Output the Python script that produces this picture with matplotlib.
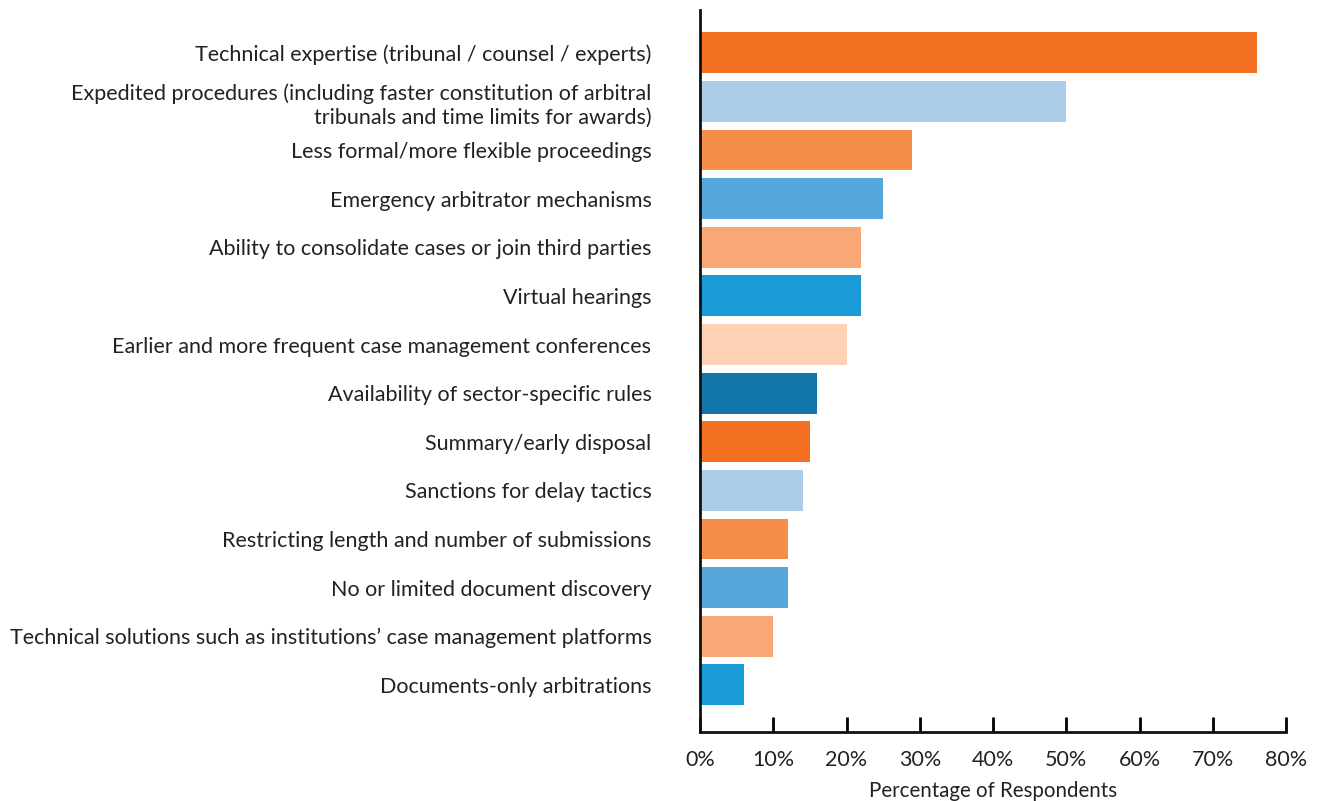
import numpy as np
import matplotlib.pyplot as plt
from matplotlib.ticker import FuncFormatter

plt.rcParams['font.family'] = ['Lato', 'DejaVu Sans']

labels = [
    "Technical expertise (tribunal / counsel / experts)",
    "Expedited procedures (including faster constitution of arbitral\ntribunals and time limits for awards)",
    "Less formal/more flexible proceedings",
    "Emergency arbitrator mechanisms",
    "Ability to consolidate cases or join third parties",
    "Virtual hearings",
    "Earlier and more frequent case management conferences",
    "Availability of sector-specific rules",
    "Summary/early disposal",
    "Sanctions for delay tactics",
    "Restricting length and number of submissions",
    "No or limited document discovery",
    "Technical solutions such as institutions\u2019 case management platforms",
    "Documents-only arbitrations",
]
values = [76, 50, 29, 25, 22, 22, 20, 16, 15, 14, 12, 12, 10, 6]
colors = ['#F37021', '#ABCDEA', '#F68D48', '#56A8DC', '#F8A775', '#1A9AD6', '#FDD1B4',
          '#1276A8', '#F37021', '#ABCDEA', '#F68D48', '#56A8DC', '#F8A775', '#1A9AD6']

fig = plt.figure(figsize=(13.19, 8.01), dpi=100)
ax = fig.add_axes([0.5307, 0.0861, 0.4444, 0.9014])

y = np.arange(len(values))
ax.barh(y, values, height=0.84, color=colors)
ax.set_ylim(len(values) - 1 + 0.97, -0.88)
ax.set_xlim(0, 80)
ax.set_xticks(np.arange(0, 81, 10))
ax.xaxis.set_major_formatter(FuncFormatter(lambda v, p: "%d%%" % v))
ax.set_yticks(y)
ax.set_yticklabels(labels, fontsize=15.5, color='#222222', linespacing=1.25)
ax.tick_params(axis='y', length=0, pad=35)
ax.tick_params(axis='x', direction='in', length=11, width=2, labelsize=15.5,
               labelcolor='#222222', pad=13)
for s in ['top', 'right']:
    ax.spines[s].set_visible(False)
for s in ['left', 'bottom']:
    ax.spines[s].set_linewidth(2)
    ax.spines[s].set_color('#111111')
ax.set_xlabel("Percentage of Respondents", fontsize=14.8, color='#222222', labelpad=8)

plt.savefig('out.png')
